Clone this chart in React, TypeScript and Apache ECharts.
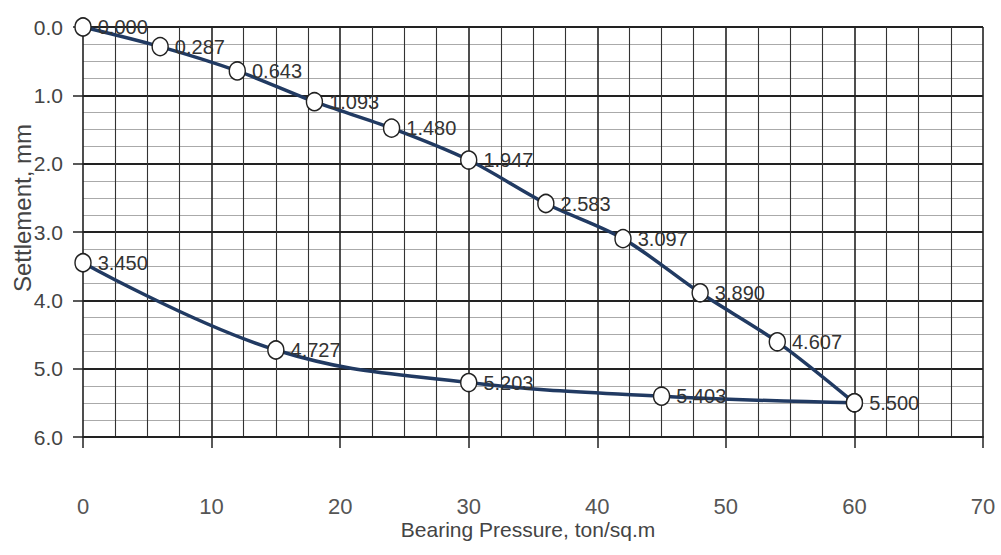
import React, { useEffect, useRef } from "react";
import * as echarts from "echarts";

const xTicks = [0, 10, 20, 30, 40, 50, 60, 70];
const loadPressure = [0, 6, 12, 18, 24, 30, 36, 42, 48, 54, 60];
const loadSettlement = [0.0, 0.287, 0.643, 1.093, 1.48, 1.947, 2.583, 3.097, 3.89, 4.607, 5.5];
const unloadPressure = [60, 45, 30, 15, 0];
const unloadSettlement = [5.5, 5.403, 5.203, 4.727, 3.45];

const FONT = "'Liberation Sans', Arial, sans-serif";

export default function App() {
  const ref = useRef<HTMLDivElement>(null);
  useEffect(() => {
    if (!ref.current) return;
    const chart = echarts.init(ref.current, null, { renderer: "svg" });
    const lineColor = "#213a62";
    const labelStyle = {
      show: true,
      position: "right" as const,
      distance: 6,
      fontFamily: FONT,
      fontSize: 20,
      color: "#333",
      formatter: (p: any) => Number(p.value[1]).toFixed(3),
    };
    chart.setOption({
      animation: false,
      backgroundColor: "#fff",
      grid: { left: 83, right: 18, top: 27, bottom: 118 },
      xAxis: {
        type: "value",
        min: xTicks[0],
        max: xTicks[xTicks.length - 1],
        interval: 10,
        axisLine: { show: true, onZero: false, lineStyle: { color: "#222", width: 2 } },
        axisTick: { show: true, length: 11, lineStyle: { color: "#222", width: 1.5 } },
        axisLabel: { margin: 58, fontFamily: FONT, fontSize: 22, color: "#555" },
        splitLine: { show: true, lineStyle: { color: "#222", width: 1.6 } },
        minorTick: { show: false, splitNumber: 4 },
        minorSplitLine: { show: true, lineStyle: { color: "#333", width: 1.1 } },
      },
      yAxis: {
        type: "value",
        inverse: true,
        min: 0,
        max: 6,
        interval: 1,
        axisLine: { show: false },
        axisTick: { show: true, length: 10, lineStyle: { color: "#222", width: 1.5 } },
        axisLabel: {
          margin: 20,
          fontFamily: FONT,
          fontSize: 21,
          color: "#444",
          formatter: (v: number) => v.toFixed(1),
        },
        splitLine: { show: true, lineStyle: { color: "#222", width: 1.8 } },
        minorTick: { show: false, splitNumber: 4 },
        minorSplitLine: { show: true, lineStyle: { color: "#aaa", width: 1 } },
      },
      graphic: [
        {
          type: "text",
          x: 528,
          y: 529,
          style: {
            text: "Bearing Pressure, ton/sq.m",
            fontFamily: FONT,
            fontSize: 21,
            fill: "#444",
            textAlign: "center",
            textVerticalAlign: "middle",
          },
        },
        {
          type: "text",
          x: 22,
          y: 208,
          rotation: Math.PI / 2,
          style: {
            text: "Settlement, mm",
            fontFamily: FONT,
            fontSize: 24,
            fill: "#444",
            textAlign: "center",
            textVerticalAlign: "middle",
          },
        },
      ],
      series: [
        {
          type: "line",
          name: "Loading",
          data: loadPressure.map((x, i) => [x, loadSettlement[i]]),
          smooth: 0.3,
          symbol: "circle",
          symbolSize: [16, 18],
          lineStyle: { color: lineColor, width: 3.5 },
          itemStyle: { color: "#fff", borderColor: "#222", borderWidth: 1.5 },
          label: labelStyle,
          z: 3,
        },
        {
          type: "line",
          name: "Unloading",
          data: unloadPressure.map((x, i) => ({
            value: [x, unloadSettlement[i]],
            label: { show: i !== 0 },
          })),
          smooth: 0.4,
          symbol: "circle",
          symbolSize: [16, 18],
          lineStyle: { color: lineColor, width: 3.5 },
          itemStyle: { color: "#fff", borderColor: "#222", borderWidth: 1.5 },
          label: labelStyle,
          z: 2,
        },
      ],
    });
    return () => chart.dispose();
  }, []);
  return (
    <div
      ref={ref}
      style={{ position: "fixed", left: 0, top: 0, width: 1001, height: 555 }}
    />
  );
}
